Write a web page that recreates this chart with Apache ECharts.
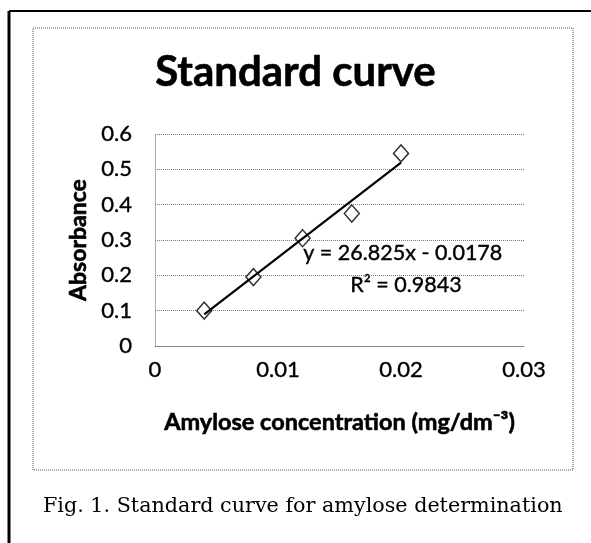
<!DOCTYPE html>
<html>
<head>
<meta charset="utf-8">
<script src="https://cdn.jsdelivr.net/npm/echarts@6/dist/echarts.min.js"></script>
<style>
  html, body { margin: 0; padding: 0; background: #fff; }
  #chart { width: 591px; height: 543px; }
</style>
</head>
<body>
<div id="chart"></div>
<script>
// amylose standard curve data
const concX = [0.004, 0.008, 0.012, 0.016, 0.02]
const absorbance = [0.1, 0.195, 0.305, 0.375, 0.545]
// trend line ends
const trendX = [0.004, 0.02]
const trendY = [0.0895, 0.5187]
const xTicks = [0, 0.01, 0.02, 0.03]
const yTicks = [0, 0.1, 0.2, 0.3, 0.4, 0.5, 0.6]
const eqText = 'y = 26.825x - 0.0178'
const r2Text = 'R² = 0.9843'

const chart = echarts.init(document.getElementById('chart'))
const font = 'Lato, "Open Sans", sans-serif'
// scan makes the text look a bit heavier
const heavy = { textBorderColor: '#000', textBorderWidth: 0.6 }
const light = { textBorderColor: '#000', textBorderWidth: 0.4 }

chart.setOption({
  animation: false,
  title: [{
    text: 'Standard curve',
    left: 'center',
    top: 46,
    textStyle: Object.assign({ fontFamily: font, fontWeight: 'bold', fontSize: 42, color: '#000' }, heavy)
  }, {
    text: 'Fig. 1. Standard curve for amylose determination',
    left: 38,
    top: 491,
    textStyle: { fontFamily: '"DejaVu Serif", serif', fontWeight: 'normal', fontSize: 20.7, color: '#000' }
  }],
  grid: { left: 155, right: 67, top: 134, bottom: 197 },
  xAxis: {
    type: 'value',
    min: xTicks[0],
    max: xTicks[xTicks.length - 1],
    interval: 0.01,
    name: 'Amylose concentration (mg/dm⁻³)',
    nameLocation: 'middle',
    nameGap: 64,
    nameTextStyle: Object.assign({ fontFamily: font, fontWeight: 'bold', fontSize: 23.5, color: '#000' }, heavy),
    axisLine: { show: true, lineStyle: { color: '#777', type: 'dotted', width: 1 } },
    axisTick: { show: false },
    splitLine: { show: false },
    axisLabel: Object.assign({ fontFamily: font, fontSize: 22, color: '#000', margin: 13 }, light)
  },
  yAxis: {
    type: 'value',
    min: yTicks[0],
    max: yTicks[yTicks.length - 1],
    interval: 0.1,
    name: 'Absorbance',
    nameLocation: 'middle',
    nameGap: 62,
    nameTextStyle: Object.assign({ fontFamily: font, fontWeight: 'bold', fontSize: 23, color: '#000' }, heavy),
    axisLine: { show: true, lineStyle: { color: '#999', type: 'dotted', width: 1 } },
    axisTick: { show: false },
    splitLine: { lineStyle: { color: '#777', type: 'dotted', width: 1 } },
    axisLabel: Object.assign({ fontFamily: font, fontSize: 22, color: '#000', margin: 23 }, light)
  },
  series: [{
    type: 'scatter',
    data: concX.map((x, i) => [x, absorbance[i]]),
    symbol: 'diamond',
    symbolSize: [15, 17],
    itemStyle: { color: '#fff', borderColor: '#000', borderWidth: 1.5 },
    z: 2
  }, {
    type: 'line',
    data: trendX.map((x, i) => [x, trendY[i]]),
    showSymbol: false,
    lineStyle: { color: '#000', width: 2.2 },
    z: 3
  }],
  graphic: [
    // scan frame
    { type: 'line', shape: { x1: 9, y1: 11, x2: 9, y2: 543 }, style: { stroke: '#000', lineWidth: 3 } },
    { type: 'line', shape: { x1: 9, y1: 11, x2: 591, y2: 11 }, style: { stroke: '#000', lineWidth: 2 } },
    { type: 'rect', shape: { x: 33, y: 28, width: 540, height: 442 },
      style: { fill: 'none', stroke: '#555', lineWidth: 1, lineDash: [1, 1] } },
    { type: 'text', left: 303, top: 242,
      style: { text: eqText, font: '21.5px ' + font, fill: '#000', stroke: '#000', lineWidth: 0.4 } },
    { type: 'text', left: 350, top: 274,
      style: { text: r2Text, font: '21.5px ' + font, fill: '#000', stroke: '#000', lineWidth: 0.4 } }
  ]
})
</script>
</body>
</html>
